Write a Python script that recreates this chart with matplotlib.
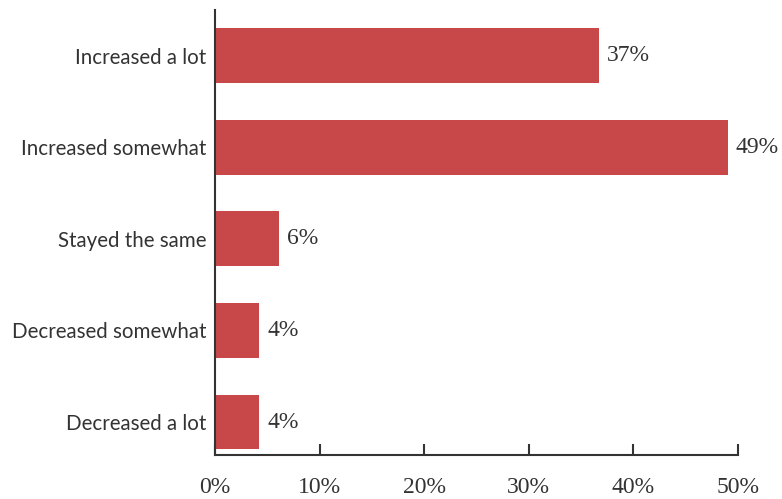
import matplotlib
matplotlib.use("Agg")
import matplotlib.pyplot as plt

# ── Survey responses ──────────────────────────────────────────────
categories = ["Increased a lot", "Increased somewhat", "Stayed the same",
              "Decreased somewhat", "Decreased a lot"]
shares = [36.7, 49.0, 6.1, 4.2, 4.2]
xticks = [0, 10, 20, 30, 40, 50]

BAR_COLOR = "#C8484A"
TEXT_COLOR = "#333333"

fig = plt.figure(figsize=(7.82, 4.99), dpi=100)
ax = fig.add_axes([0.2749, 0.0882, 0.6688, 0.8918])

ypos = list(range(len(categories)))
ax.barh(ypos, shares, height=0.6, color=BAR_COLOR)

# value labels next to each bar
for y, v in zip(ypos, shares):
    ax.annotate(f"{v:.0f}%", xy=(v, y), xytext=(6, 0),
                textcoords="offset points", va="center", ha="left",
                fontsize=17, family="Liberation Serif", color=TEXT_COLOR)

ax.set_ylim(4.36, -0.5)
ax.set_xlim(0, 50)
ax.set_yticks(ypos)
ax.set_yticklabels(categories, fontsize=14.8, family="Lato", color=TEXT_COLOR)
ax.set_xticks(xticks)
ax.set_xticklabels([f"{t}%" for t in xticks], fontsize=17,
                   family="Liberation Serif", color=TEXT_COLOR)

ax.tick_params(axis="y", length=0, pad=6)
ax.tick_params(axis="x", direction="in", length=8, width=1.5,
               color=TEXT_COLOR, pad=16)

for side in ["top", "right"]:
    ax.spines[side].set_visible(False)
for side in ["left", "bottom"]:
    ax.spines[side].set_color(TEXT_COLOR)
    ax.spines[side].set_linewidth(1.5)

fig.savefig("out.png", dpi=100)
